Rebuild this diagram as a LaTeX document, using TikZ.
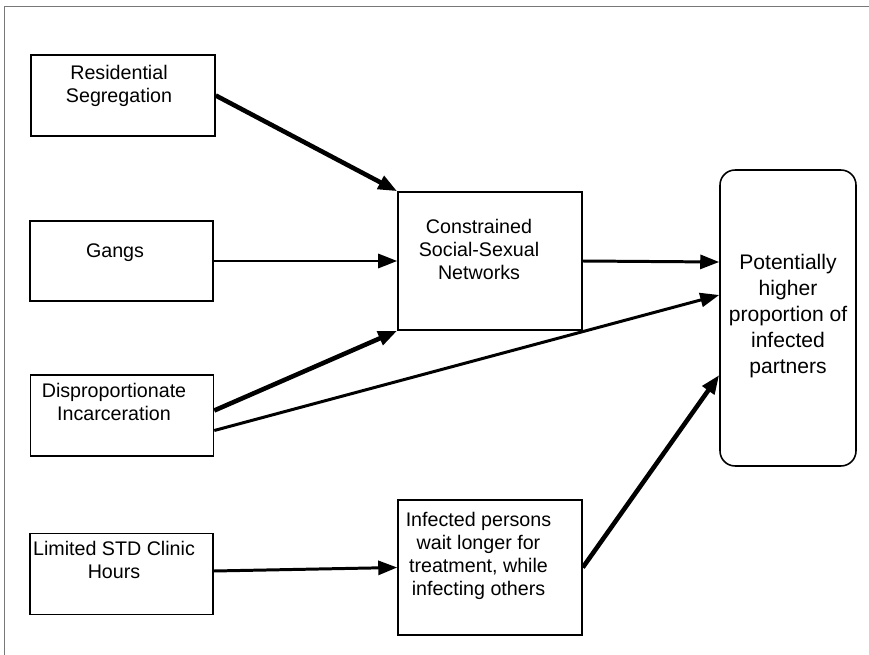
\documentclass[tikz,border=0pt]{standalone}
\usepackage{fontspec}
\setmainfont{Liberation Sans}
\usetikzlibrary{shapes,arrows.meta,positioning,calc}
\definecolor{framegray}{RGB}{120,120,120}
\newcommand{\boxfont}{\fontsize{11.2}{13.1}\selectfont}
\newcommand{\bigboxfont}{\fontsize{12}{14.8}\selectfont}

\tikzset{
    box/.style={draw, line width=0.9pt, inner sep=0pt},
    lbl/.style={font=\boxfont, align=center, inner sep=0pt, anchor=north},
    arr/.style={-{Triangle[length=0.38cm,width=0.28cm]}, line width=1.7pt},
    thickarr/.style={arr, line width=2.6pt}
}

\begin{document}
\begin{tikzpicture}[x=0.02cm, y=-0.02cm]
    \useasboundingbox (0,0) rectangle (869,655);

    % frame
    \draw[framegray, line width=0.5pt] (4,655) -- (4,6) -- (869,6);

    % left column
    \node[box, minimum width=3.68cm, minimum height=1.62cm] (res) at (123,95.5) {};
    \node[lbl] (restxt) at (119,65) {Residential\\Segregation};

    \node[box, minimum width=3.66cm, minimum height=1.60cm] (gangs) at (121.5,261) {};
    \node[lbl] (gangstxt) at (115,243) {Gangs};

    \node[box, minimum width=3.66cm, minimum height=1.62cm] (disp) at (122,415.5) {};
    \node[lbl] (disptxt) at (114,383) {Disproportionate\\Incarceration};

    \node[box, minimum width=3.66cm, minimum height=1.62cm] (lim) at (121.5,574) {};
    \node[lbl] (limtxt) at (114,541) {Limited STD Clinic\\Hours};

    % middle column
    \node[box, minimum width=3.68cm, minimum height=2.76cm] (con) at (490,261) {};
    \node[lbl] (contxt) at (479,219) {Constrained\\Social-Sexual\\Networks};

    \node[box, minimum width=3.68cm, minimum height=2.70cm] (inf) at (490,567.5) {};
    \node[lbl] (inftxt) at (478.5,512) {Infected persons\\wait longer for\\treatment, while\\infecting others};

    % outcome
    \node[box, rounded corners=0.3cm, minimum width=2.72cm, minimum height=5.92cm] (pot) at (788,318) {};
    \node[lbl, font=\bigboxfont] (pottxt) at (788,254) {Potentially\\higher\\proportion of\\infected\\partners};

    % connectors
    \draw[thickarr] (res.east) -- (con.north west);
    \draw[arr] (gangs.east) -- (con.west);
    \draw[thickarr] ([yshift=0.1cm]disp.east) -- (con.south west);
    \draw[arr] ([yshift=-0.3cm]disp.east) -- ([yshift=0.46cm]pot.west);
    \draw[arr] (con.east) -- ([yshift=1.12cm]pot.west);
    \draw[arr] ([yshift=0.06cm]lim.east) -- (inf.west);
    \draw[thickarr] (inf.east) -- ([yshift=-1.14cm]pot.west);
\end{tikzpicture}
\end{document}
